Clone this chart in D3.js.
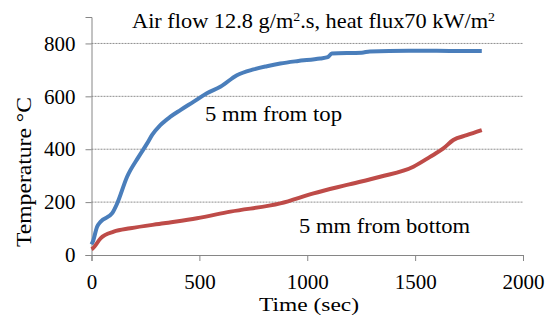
<!DOCTYPE html>
<html>
<head>
<meta charset="utf-8">
<script src="https://cdn.jsdelivr.net/npm/d3@7"></script>
<style>
  body { margin: 0; background: #fff; }
  text { font-family: "Liberation Serif", "Times New Roman", serif; fill: #000; }
</style>
</head>
<body>
<div id="chart"></div>
<script>
// values
var topTime = [0, 6, 26, 42, 96, 119, 165, 219, 258, 281, 319, 366, 412, 474, 535, 597, 674, 751, 813, 875, 952, 1060, 1095, 1114, 1253, 1290, 1469, 1600, 1809];
var topTemp = [40, 50, 107, 126, 158, 195, 296, 372, 422, 454, 491, 523, 548, 580, 612, 636, 680, 702, 714, 724, 733, 743, 748, 762, 765, 770, 772, 772, 771];

var bottomTime = [0, 6, 42, 103, 180, 335, 489, 644, 875, 1029, 1184, 1338, 1492, 1569, 1631, 1677, 1739, 1809];
var bottomTemp = [22, 25, 63, 88, 101, 120, 139, 164, 195, 233, 265, 296, 334, 371, 403, 435, 453, 472];

var yTicks = [0, 200, 400, 600, 800];
var xTicks = [0, 500, 1000, 1500, 2000];

var W = 551, H = 321;
var serif = "'Liberation Serif', 'Times New Roman', serif";
var svg = d3.select("#chart").append("svg")
  .attr("width", W).attr("height", H);

var x = d3.scaleLinear().domain([0, 2000]).range([91.5, 523]);
var y = d3.scaleLinear().domain([0, 900]).range([255, 17]);

// grid
svg.append("g").selectAll("line")
  .data(yTicks.slice(1))
  .enter().append("line")
  .attr("x1", x(0)).attr("x2", x(2000))
  .attr("y1", function(d) { return y(d); })
  .attr("y2", function(d) { return y(d); })
  .attr("stroke", "#8e8e8e").attr("stroke-width", 1)
  .attr("stroke-dasharray", "2,1");

var xAxis = svg.append("g")
  .attr("transform", "translate(0," + y(0) + ")")
  .call(d3.axisBottom(x).tickValues(xTicks).tickFormat(d3.format("d")).tickSize(6).tickPadding(13));
var yAxis = svg.append("g")
  .attr("transform", "translate(" + x(0) + ",0)")
  .call(d3.axisLeft(y).tickValues(yTicks).tickFormat(d3.format("d")).tickSize(6).tickPadding(10));

[xAxis, yAxis].forEach(function(a) {
  a.attr("font-family", serif).attr("font-size", 21);
  a.select(".domain").attr("stroke", "#868686");
  a.selectAll(".tick line").attr("stroke", "#868686");
  a.selectAll(".tick text").attr("fill", "#000");
});

var line = d3.line()
  .x(function(d) { return x(d[0]); })
  .y(function(d) { return y(d[1]); })
  .curve(d3.curveMonotoneX);

svg.append("path")
  .datum(d3.zip(topTime, topTemp))
  .attr("d", line).attr("fill", "none")
  .attr("stroke", "#4a7ebb").attr("stroke-width", 4);

svg.append("path")
  .datum(d3.zip(bottomTime, bottomTemp))
  .attr("d", line).attr("fill", "none")
  .attr("stroke", "#be4b48").attr("stroke-width", 4);

// title
var title = svg.append("text")
  .attr("x", 132).attr("y", 28)
  .attr("textLength", 363).attr("lengthAdjust", "spacingAndGlyphs")
  .style("font-size", "21px");
title.append("tspan").text("Air flow 12.8 g/m");
title.append("tspan").attr("dy", -7).style("font-size", "13px").text("2");
title.append("tspan").attr("dy", 7).text(".s, heat flux70 kW/m");
title.append("tspan").attr("dy", -7).style("font-size", "13px").text("2");

svg.append("text")
  .attr("x", 205).attr("y", 121)
  .attr("textLength", 137).attr("lengthAdjust", "spacingAndGlyphs")
  .style("font-size", "21px")
  .text("5 mm from top");

svg.append("text")
  .attr("x", 299).attr("y", 233)
  .attr("textLength", 171).attr("lengthAdjust", "spacingAndGlyphs")
  .style("font-size", "21px")
  .text("5 mm from bottom");

svg.append("text")
  .attr("x", 259).attr("y", 311)
  .attr("textLength", 100).attr("lengthAdjust", "spacingAndGlyphs")
  .style("font-size", "19px")
  .text("Time (sec)");

svg.append("text")
  .attr("transform", "translate(31,247) rotate(-90)")
  .attr("textLength", 150).attr("lengthAdjust", "spacingAndGlyphs")
  .style("font-size", "20px")
  .text("Temperature \u00b0C");
</script>
</body>
</html>
